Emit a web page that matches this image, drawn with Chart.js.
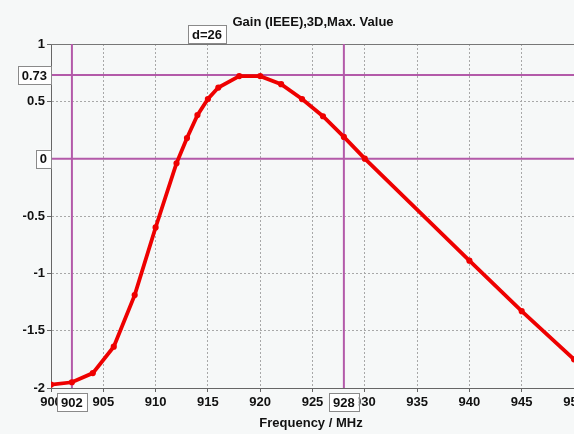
<!DOCTYPE html>
<html>
<head>
<meta charset="utf-8">
<script src="https://cdn.jsdelivr.net/npm/chart.js@4"></script>
<style>
  html, body { margin: 0; padding: 0; background: #f6f8f8; }
  #wrap { width: 574px; height: 434px; }
</style>
</head>
<body>
<div id="wrap"><canvas id="gain"></canvas></div>
<script>
const freqs = [900, 902, 904, 906, 908, 910, 912, 913, 914, 915, 916, 918, 920, 922, 924, 926, 928, 930, 940, 945, 950];
const gains = [-1.97, -1.95, -1.87, -1.64, -1.19, -0.6, -0.04, 0.18, 0.38, 0.52, 0.62, 0.72, 0.72, 0.65, 0.52, 0.37, 0.19, 0.0, -0.89, -1.33, -1.75];
const markerFreqs = [902, 928];
const markerGains = [0.73, 0];
const xTicks = [900, 905, 910, 915, 920, 925, 930, 935, 940, 945, 950];
const titleText = "Gain (IEEE),3D,Max. Value";
const deltaText = "d=26";
const xTitle = "Frequency / MHz";

const FONT = "'Liberation Sans', Arial, sans-serif";
const MAGENTA = "#b35aa9";

function box(ctx, text, x, cy, align) {
  ctx.font = "bold 13px " + FONT;
  const w = ctx.measureText(text).width + 8;
  const h = 18;
  let left = x - w / 2;
  if (align === "right") left = x - w;
  ctx.fillStyle = "#ffffff";
  ctx.fillRect(left, cy - h / 2, w, h);
  ctx.strokeStyle = "#8a8a8a";
  ctx.lineWidth = 1;
  ctx.strokeRect(Math.round(left) + 0.5, Math.round(cy - h / 2) + 0.5, Math.round(w), h);
  ctx.fillStyle = "#111";
  ctx.textAlign = "center";
  ctx.textBaseline = "middle";
  ctx.fillText(text, left + w / 2, cy + 1);
}

const extras = {
  id: "extras",
  beforeDraw(chart) {
    const ctx = chart.ctx;
    ctx.save();
    ctx.fillStyle = "#f6f8f8";
    ctx.fillRect(0, 0, chart.width, chart.height);
    ctx.restore();
  },
  beforeDatasetsDraw(chart) {
    const { ctx, chartArea: a, scales: { x, y } } = chart;
    ctx.save();
    ctx.strokeStyle = "#777";
    ctx.lineWidth = 1;
    ctx.beginPath();
    ctx.moveTo(a.left, Math.round(a.top) + 0.5);
    ctx.lineTo(a.right, Math.round(a.top) + 0.5);
    ctx.stroke();
    ctx.strokeStyle = MAGENTA;
    ctx.lineWidth = 2;
    markerGains.forEach(v => {
      const py = y.getPixelForValue(v);
      ctx.beginPath();
      ctx.moveTo(a.left, py);
      ctx.lineTo(a.right, py);
      ctx.stroke();
    });
    markerFreqs.forEach(v => {
      const px = x.getPixelForValue(v);
      ctx.beginPath();
      ctx.moveTo(px, a.top);
      ctx.lineTo(px, a.bottom);
      ctx.stroke();
    });
    ctx.restore();
  },
  afterDraw(chart) {
    const { ctx, scales: { x, y } } = chart;
    ctx.save();
    markerFreqs.forEach(v => box(ctx, String(v), x.getPixelForValue(v), 402, "center"));
    markerGains.forEach(v => box(ctx, String(v), 51, y.getPixelForValue(v), "right"));
    box(ctx, deltaText, 207, 34, "center");
    ctx.font = "bold 13px " + FONT;
    ctx.fillStyle = "#111";
    ctx.textAlign = "center";
    ctx.textBaseline = "middle";
    ctx.fillText(titleText, 313, 22);
    ctx.fillText(xTitle, 311, 423);
    ctx.restore();
  }
};

const points = freqs.map((f, i) => ({ x: f, y: gains[i] }));

new Chart(document.getElementById("gain"), {
  type: "line",
  data: {
    datasets: [{
      data: points,
      borderColor: "#ee0000",
      backgroundColor: "#ee0000",
      borderWidth: 3.8,
      pointRadius: 1.2,
      pointHoverRadius: 1.2,
      tension: 0,
    }],
  },
  options: {
    responsive: true,
    maintainAspectRatio: false,
    animation: false,
    layout: { autoPadding: false, padding: { top: 44, right: 0, left: 0, bottom: 0 } },
    plugins: { legend: { display: false }, title: { display: false }, tooltip: { enabled: false } },
    scales: {
      x: {
        type: "linear",
        min: 900,
        max: 950,
        afterBuildTicks: (s) => { s.ticks = xTicks.map(v => ({ value: v })); },
        afterFit: (s) => { s.height = 46; s.paddingLeft = 0; s.paddingRight = 0; },
        ticks: { color: "#111", font: { family: FONT, size: 13, weight: "bold" }, padding: 3, autoSkip: false, maxRotation: 0, callback: (v) => String(v) },
        grid: { color: "#a8a8a8", tickLength: 4, tickColor: "#666", lineWidth: 1 },
        border: { display: true, color: "#666", width: 1, dash: [2, 2] },
      },
      y: {
        min: -2,
        max: 1,
        ticks: { stepSize: 0.5, color: "#111", font: { family: FONT, size: 13, weight: "bold" }, padding: 2, callback: (v) => String(v) },
        afterFit: (s) => { s.width = 51; s.paddingTop = 0; s.paddingBottom = 0; },
        grid: { color: "#a8a8a8", tickLength: 4, tickColor: "#666", lineWidth: 1 },
        border: { display: true, color: "#666", width: 1, dash: [2, 2] },
      },
    },
  },
  plugins: [extras],
});
</script>
</body>
</html>
